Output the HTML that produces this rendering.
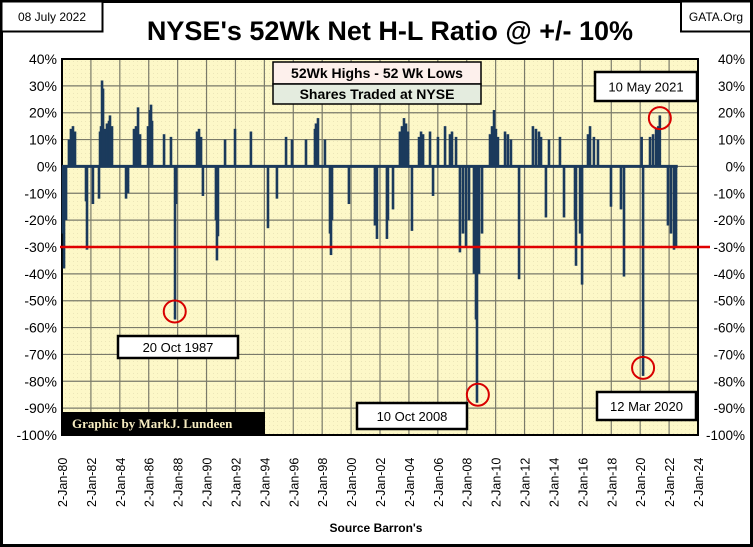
<!DOCTYPE html>
<html><head><meta charset="utf-8">
<style>
body{margin:0;background:#fff;}
#wrap{position:relative;width:753px;height:547px;overflow:hidden;font-family:"Liberation Sans",sans-serif;}
</style></head>
<body>
<div id="wrap">
<svg id="chart" width="753" height="547" xmlns="http://www.w3.org/2000/svg">
<defs>
<pattern id="dots" width="4" height="4" patternUnits="userSpaceOnUse"><rect width="4" height="4" fill="#fdf8c8"/><rect x="1" y="1" width="1" height="1" fill="#ece6b8"/></pattern>
</defs>
<rect x="1.5" y="1.5" width="750" height="544" fill="#fff" stroke="#000" stroke-width="3"/>
<rect x="62" y="59" width="636" height="376" fill="url(#dots)"/>
<g id="grid"></g>
<g id="bars"></g>
<g id="ann"></g>
<text x="390" y="40" text-anchor="middle" font-size="27" font-weight="bold" fill="#000">NYSE's 52Wk Net H-L Ratio @ +/- 10%</text>
<rect x="1.5" y="1.5" width="101" height="30" fill="#fff" stroke="#000" stroke-width="2"/>
<text x="52" y="21" text-anchor="middle" font-size="12">08 July 2022</text>
<rect x="681" y="1.5" width="70" height="30" fill="#fff" stroke="#000" stroke-width="2"/>
<text x="716" y="21" text-anchor="middle" font-size="12">GATA.Org</text>
<rect x="273" y="62" width="208" height="22" fill="#fdf0ec" stroke="#000" stroke-width="1.5"/>
<text x="377" y="78" text-anchor="middle" font-size="14" font-weight="bold">52Wk Highs - 52 Wk Lows</text>
<rect x="273" y="84" width="208" height="20" fill="#e4ecdf" stroke="#000" stroke-width="1.5"/>
<text x="377" y="99" text-anchor="middle" font-size="14" font-weight="bold">Shares Traded at NYSE</text>
<rect x="62" y="412" width="203" height="22" fill="#000"/>
<text x="72" y="428" font-family="Liberation Serif,serif" font-size="13" font-weight="bold" fill="#f5ebc0">Graphic by MarkJ. Lundeen</text>
<text x="376" y="532" text-anchor="middle" font-size="12" font-weight="bold">Source Barron's</text>
</svg>
</div>
<script>
const years=[1980.07,1980.14,1980.28,1980.48,1980.62,1980.76,1980.9,1981.66,1981.73,1982.14,1982.56,1982.63,1982.7,1982.77,1982.84,1982.97,1983.11,1983.25,1983.32,1983.46,1984.43,1984.57,1984.98,1985.12,1985.26,1985.4,1985.95,1986.09,1986.16,1986.23,1987.06,1987.54,1987.82,1987.89,1989.34,1989.48,1989.62,1989.75,1990.65,1990.72,1990.79,1991.28,1991.97,1993.07,1994.25,1994.87,1995.5,1995.91,1996.88,1997.5,1997.57,1997.64,1997.71,1998.19,1998.54,1998.61,1998.68,1999.85,2001.65,2001.79,2002.48,2002.55,2002.9,2003.38,2003.52,2003.66,2003.8,2003.94,2004.21,2004.7,2004.84,2004.98,2005.46,2005.67,2006.01,2006.5,2006.84,2006.98,2007.26,2007.53,2007.74,2007.95,2008.16,2008.5,2008.64,2008.71,2008.85,2009.06,2009.61,2009.75,2009.89,2010.02,2010.16,2010.65,2010.85,2011.06,2011.62,2012.58,2012.79,2013.0,2013.14,2013.48,2013.69,2014.45,2014.73,2015.49,2015.56,2015.84,2015.98,2016.39,2016.53,2016.8,2017.08,2017.98,2018.67,2018.88,2020.2,2020.1,2020.68,2020.89,2021.1,2021.25,2021.36,2021.92,2022.13,2022.34,2022.48];
const values=[-25,-38,-20,10,14,15,13,-13,-31,-14,-12,13,15,32,29,14,16,17,19,15,-12,-10,14,15,22,12,15,21,23,17,12,11,-57,-14,13,14,11,-11,-20,-35,-26,10,14,13,-23,-12,11,10,10,14,16,15,18,10,-25,-33,-20,-14,-22,-27,-27,-20,-16,13,15,18,16,13,-24,11,13,12,13,-11,11,15,12,13,11,-32,-25,-30,-20,-40,-57,-88,-40,-25,12,15,21,14,11,13,12,10,-42,15,14,13,11,-19,10,11,-19,-20,-37,-25,-44,12,15,11,10,-15,-16,-41,-78,11,11,12,14,15,19,-22,-25,-31,-30];
const yTicks=[40,30,20,10,0,-10,-20,-30,-40,-50,-60,-70,-80,-90,-100];
const xTickYears=[1980,1982,1984,1986,1988,1990,1992,1994,1996,1998,2000,2002,2004,2006,2008,2010,2012,2014,2016,2018,2020,2022,2024];
const xTickLabels=["2-Jan-80","2-Jan-82","2-Jan-84","2-Jan-86","2-Jan-88","2-Jan-90","2-Jan-92","2-Jan-94","2-Jan-96","2-Jan-98","2-Jan-00","2-Jan-02","2-Jan-04","2-Jan-06","2-Jan-08","2-Jan-10","2-Jan-12","2-Jan-14","2-Jan-16","2-Jan-18","2-Jan-20","2-Jan-22","2-Jan-24"];
const annYears=[1987.8,2008.77,2020.2,2021.36];
const annValues=[-54,-85,-75,18];
const annLabels=["20 Oct 1987","10 Oct 2008","12 Mar 2020","10 May 2021"];
const refLine=-30;

const L=62,R=698,T=59,B=435;
const xs=y=>L+(y-1980)/44*(R-L);
const ys=v=>T+(40-v)/140*(B-T);
const NS="http://www.w3.org/2000/svg";
function mk(tag,attrs,parent){const e=document.createElementNS(NS,tag);for(const k in attrs)e.setAttribute(k,attrs[k]);parent.appendChild(e);return e;}
const grid=document.getElementById('grid'),svg=document.getElementById('chart');
yTicks.forEach(v=>{
  const l=mk('line',{x1:L,x2:R,y1:ys(v),y2:ys(v),stroke:'#7a7a6a','stroke-width':1.2},grid);
  
  
  const t1=mk('text',{x:L-5,y:ys(v)+5,'text-anchor':'end','font-size':14},svg);
  t1.textContent=v+'%';
  
  
  const t2=mk('text',{x:745,y:ys(v)+5,'text-anchor':'end','font-size':13.5},svg);
  t2.textContent=v+'%';
  
  
});
xTickYears.forEach((y,i)=>{
  const l=mk('line',{x1:xs(y),x2:xs(y),y1:T,y2:B,stroke:'#7a7a6a','stroke-width':1.2},grid);
  
  
  const t=mk('text',{x:0,y:0,'font-size':12.5,transform:`translate(${xs(y)+5},507) rotate(-90)`},svg);
  t.textContent=xTickLabels[i];
  
  
});
const ax=mk('path',{d:`M${L},${T} H${R} V${B} H${L} Z`,fill:'none',stroke:'#000','stroke-width':2},grid);


const bars=document.getElementById('bars');
const zl=mk('line',{x1:L,x2:xs(2022.6),y1:ys(0),y2:ys(0),stroke:'#1b3a5c','stroke-width':3},bars);


years.forEach((y,i)=>{
  const v=values[i];
  const r=mk('rect',{x:xs(y)-1.3,width:2.6,y:Math.min(ys(v),ys(0)),height:Math.abs(ys(v)-ys(0)),fill:'#1b3a5c'},bars);
  
  
});
const rl=mk('line',{x1:L-2,x2:R+12,y1:ys(refLine),y2:ys(refLine),stroke:'#e00000','stroke-width':2.5},bars);


const ann=document.getElementById('ann');
const boxes=[[118,336,120,22],[357,403,110,26],[597,392,99,28],[595,72,102,29]];
annYears.forEach((y,i)=>{
  const c=mk('circle',{cx:xs(y),cy:ys(annValues[i]),r:11,fill:'none',stroke:'#d80000','stroke-width':2},ann);
  
  
  const b=boxes[i];
  const r=mk('rect',{x:b[0],y:b[1],width:b[2],height:b[3],fill:'#fff',stroke:'#000','stroke-width':2.5},ann);
  
  
  const t=mk('text',{x:b[0]+b[2]/2,y:b[1]+b[3]/2+5,'text-anchor':'middle','font-size':13},ann);
  t.textContent=annLabels[i];
  
  
});
</script>
</body></html>
